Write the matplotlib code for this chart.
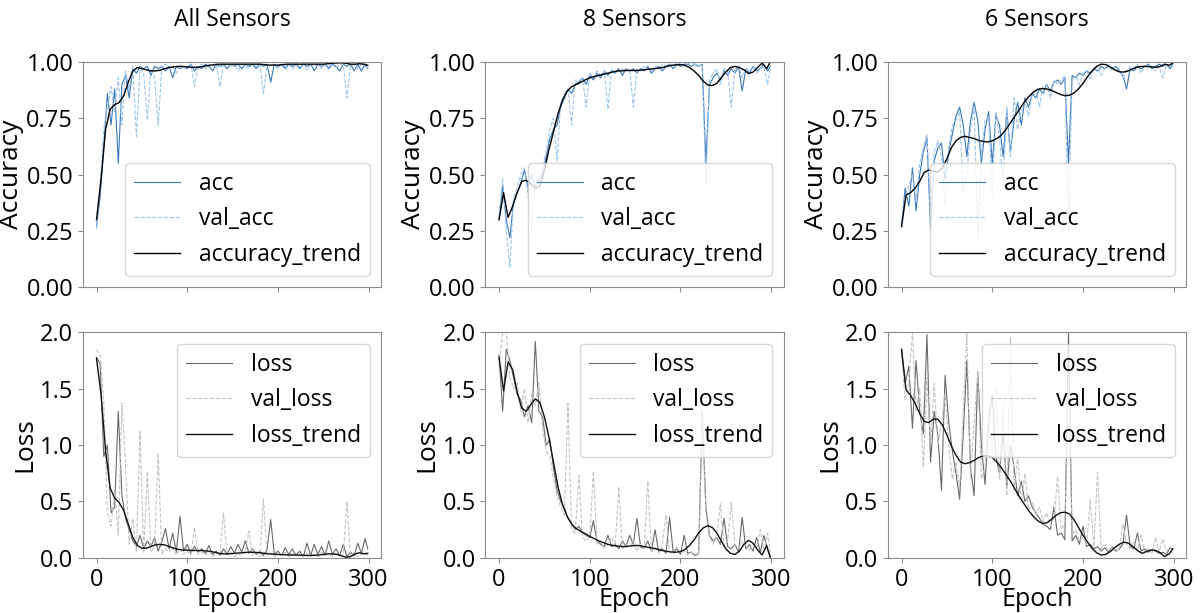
import numpy as np
import matplotlib
matplotlib.use('Agg')
from matplotlib import pyplot as plt

plt.rcParams['font.family'] = ['Open Sans', 'DejaVu Sans']

titles = ['All Sensors', '8 Sensors', '6 Sensors']

# raw history, every 4th epoch + last epoch
epochs = np.r_[np.arange(0, 300, 4), 299]
# smoothed trend, every 5th epoch + last epoch
trend_epochs = np.r_[np.arange(0, 300, 5), 299]

acc_all = [0.27, 0.40, 0.62, 0.86, 0.72, 0.88, 0.55, 0.90, 0.94, 0.84,
           0.97, 0.95, 0.98, 0.97, 0.98, 0.94, 0.98, 0.97, 0.98, 0.96,
           0.98, 0.93, 0.98, 0.97, 0.98, 0.97, 0.99, 0.96, 0.98, 0.97,
           0.99, 0.98, 0.96, 0.99, 0.98, 0.99, 0.97, 0.99, 0.98, 0.99,
           0.97, 0.99, 0.98, 0.99, 0.97, 0.99, 0.98, 0.99, 0.91, 0.99,
           0.98, 0.99, 0.97, 0.99, 0.98, 0.99, 0.97, 0.99, 0.98, 0.99,
           0.96, 0.99, 0.98, 0.99, 0.97, 0.99, 0.98, 0.96, 0.99, 0.98,
           0.99, 0.96, 0.99, 0.96, 0.99, 0.97]
val_acc_all = [0.26, 0.45, 0.70, 0.80, 0.89, 0.78, 0.93, 0.72, 0.96, 0.88,
               0.98, 0.67, 0.97, 0.95, 0.74, 0.97, 0.93, 0.72, 0.98, 0.99,
               0.97, 0.98, 0.95, 0.99, 0.97, 0.98, 0.99, 0.89, 0.98, 0.99,
               0.97, 0.99, 0.98, 0.99, 0.89, 0.99, 0.99, 0.98, 0.99, 0.96,
               0.99, 0.98, 0.97, 0.99, 0.98, 0.99, 0.86, 0.99, 0.98, 0.99,
               0.97, 0.99, 0.98, 0.99, 0.97, 0.99, 0.98, 0.99, 0.96, 0.99,
               0.98, 0.99, 0.97, 0.99, 0.98, 0.99, 0.97, 0.99, 0.99, 0.84,
               0.98, 0.99, 0.97, 0.99, 0.98, 0.97]
acc_trend_all = [0.30, 0.48, 0.70, 0.79, 0.81, 0.82, 0.85, 0.91, 0.96, 0.975,
                 0.97, 0.965, 0.96, 0.96, 0.963, 0.97, 0.975, 0.978, 0.98, 0.98,
                 0.978, 0.976, 0.976, 0.978, 0.982, 0.985, 0.988, 0.99, 0.99, 0.99,
                 0.99, 0.99, 0.99, 0.99, 0.99, 0.99, 0.99, 0.988, 0.986, 0.986,
                 0.986, 0.988, 0.99, 0.99, 0.99, 0.99, 0.99, 0.99, 0.99, 0.99,
                 0.99, 0.992, 0.994, 0.995, 0.996, 0.994, 0.99, 0.99, 0.992, 0.99,
                 0.985]

acc_8 = [0.30, 0.45, 0.30, 0.22, 0.38, 0.42, 0.46, 0.52, 0.44, 0.50,
         0.45, 0.48, 0.50, 0.58, 0.66, 0.70, 0.72, 0.80, 0.84, 0.88,
         0.86, 0.90, 0.91, 0.93, 0.90, 0.94, 0.92, 0.95, 0.93, 0.96,
         0.94, 0.96, 0.95, 0.97, 0.94, 0.97, 0.96, 0.97, 0.95, 0.97,
         0.96, 0.98, 0.95, 0.97, 0.98, 0.96, 0.98, 0.99, 0.97, 0.99,
         0.98, 0.99, 0.99, 0.98, 0.99, 0.98, 0.99, 0.55, 0.90, 0.93,
         0.95, 0.92, 0.96, 0.94, 0.97, 0.95, 0.98, 0.87, 0.97, 0.95,
         0.98, 0.96, 0.97, 0.99, 0.96, 0.98]
val_acc_8 = [0.32, 0.48, 0.25, 0.09, 0.40, 0.44, 0.50, 0.53, 0.41, 0.25,
             0.48, 0.46, 0.54, 0.60, 0.70, 0.75, 0.56, 0.82, 0.86, 0.88,
             0.72, 0.92, 0.90, 0.93, 0.80, 0.95, 0.93, 0.96, 0.94, 0.96,
             0.79, 0.97, 0.95, 0.96, 0.97, 0.96, 0.97, 0.80, 0.97, 0.96,
             0.98, 0.97, 0.96, 0.98, 0.97, 0.99, 0.98, 0.99, 0.98, 1.00,
             0.99, 0.98, 0.99, 1.00, 0.99, 0.98, 0.99, 0.45, 0.92, 0.95,
             0.97, 0.90, 0.97, 0.96, 0.80, 0.97, 0.98, 0.93, 0.97, 0.96,
             0.98, 0.95, 0.97, 0.98, 0.90, 0.97]
acc_trend_8 = [0.30, 0.42, 0.31, 0.36, 0.42, 0.47, 0.475, 0.46, 0.44, 0.45,
               0.52, 0.61, 0.69, 0.77, 0.83, 0.87, 0.89, 0.90, 0.91, 0.92,
               0.93, 0.935, 0.94, 0.945, 0.95, 0.955, 0.96, 0.96, 0.962, 0.962,
               0.962, 0.963, 0.965, 0.968, 0.97, 0.972, 0.975, 0.98, 0.985, 0.987,
               0.988, 0.985, 0.975, 0.96, 0.94, 0.915, 0.898, 0.895, 0.905, 0.93,
               0.955, 0.975, 0.98, 0.975, 0.965, 0.948, 0.955, 0.975, 0.995, 0.97,
               1.0]

acc_6 = [0.27, 0.44, 0.36, 0.53, 0.34, 0.50, 0.60, 0.66, 0.26, 0.56,
         0.62, 0.64, 0.48, 0.60, 0.68, 0.76, 0.80, 0.72, 0.58, 0.74,
         0.82, 0.74, 0.55, 0.70, 0.78, 0.55, 0.76, 0.72, 0.58, 0.78,
         0.60, 0.74, 0.82, 0.72, 0.84, 0.80, 0.86, 0.84, 0.88, 0.86,
         0.90, 0.87, 0.91, 0.92, 0.90, 0.93, 0.55, 0.94, 0.93, 0.95,
         0.94, 0.96, 0.95, 0.97, 0.96, 0.98, 0.97, 0.98, 0.97, 0.98,
         0.96, 0.94, 0.88, 0.97, 0.96, 0.98, 0.97, 0.98, 0.99, 0.97,
         0.98, 0.99, 0.98, 0.99, 0.97, 0.99]
val_acc_6 = [0.28, 0.40, 0.45, 0.50, 0.38, 0.55, 0.62, 0.68, 0.30, 0.60,
             0.65, 0.58, 0.37, 0.62, 0.72, 0.74, 0.78, 0.42, 0.50, 0.70,
             0.80, 0.22, 0.60, 0.74, 0.76, 0.40, 0.78, 0.66, 0.45, 0.80,
             0.58, 0.84, 0.70, 0.80, 0.82, 0.76, 0.86, 0.88, 0.80, 0.89,
             0.90, 0.84, 0.92, 0.90, 0.92, 0.94, 0.25, 0.92, 0.94, 0.90,
             0.95, 0.96, 0.92, 0.97, 0.98, 0.94, 0.97, 0.99, 0.96, 0.98,
             0.97, 0.93, 0.96, 0.98, 0.97, 0.99, 0.95, 0.98, 0.99, 0.98,
             0.96, 0.98, 0.93, 0.99, 0.98, 0.98]
acc_trend_6 = [0.27, 0.41, 0.42, 0.44, 0.47, 0.51, 0.52, 0.515, 0.51, 0.53,
               0.57, 0.62, 0.65, 0.665, 0.67, 0.665, 0.66, 0.652, 0.647, 0.645,
               0.65, 0.66, 0.675, 0.70, 0.73, 0.76, 0.79, 0.82, 0.845, 0.865,
               0.878, 0.882, 0.88, 0.874, 0.865, 0.856, 0.85, 0.852, 0.862, 0.88,
               0.905, 0.935, 0.96, 0.98, 0.99, 0.988, 0.978, 0.965, 0.956, 0.955,
               0.96, 0.97, 0.978, 0.98, 0.98, 0.978, 0.976, 0.98, 0.99, 0.985,
               0.995]

loss_all = [1.78, 1.72, 0.90, 1.00, 0.40, 0.45, 1.30, 0.55, 0.35, 0.25,
            0.15, 0.10, 0.20, 0.08, 0.15, 0.10, 0.18, 0.06, 0.14, 0.26,
            0.08, 0.22, 0.05, 0.37, 0.06, 0.12, 0.04, 0.10, 0.05, 0.08,
            0.04, 0.11, 0.03, 0.06, 0.02, 0.08, 0.03, 0.10, 0.04, 0.12,
            0.05, 0.15, 0.04, 0.08, 0.03, 0.06, 0.02, 0.07, 0.34, 0.03,
            0.06, 0.02, 0.09, 0.03, 0.08, 0.02, 0.06, 0.01, 0.13, 0.02,
            0.12, 0.03, 0.10, 0.02, 0.15, 0.03, 0.08, 0.02, 0.12, 0.01,
            0.05, 0.02, 0.13, 0.04, 0.17, 0.08]
val_loss_all = [1.85, 1.80, 1.40, 0.40, 0.28, 0.60, 0.20, 1.37, 0.83, 0.12,
                0.35, 0.05, 1.12, 0.04, 0.77, 0.05, 0.10, 0.93, 0.03, 0.08,
                0.05, 0.10, 0.02, 0.08, 0.03, 0.06, 0.02, 0.27, 0.03, 0.05,
                0.02, 0.06, 0.01, 0.04, 0.02, 0.40, 0.02, 0.05, 0.01, 0.04,
                0.02, 0.06, 0.24, 0.02, 0.05, 0.01, 0.52, 0.02, 0.04, 0.01,
                0.03, 0.02, 0.05, 0.01, 0.04, 0.02, 0.03, 0.01, 0.04, 0.02,
                0.03, 0.01, 0.05, 0.02, 0.03, 0.01, 0.04, 0.02, 0.03, 0.50,
                0.02, 0.04, 0.01, 0.03, 0.05, 0.02]
loss_trend_all = [1.77, 1.45, 0.95, 0.62, 0.53, 0.49, 0.42, 0.30, 0.18, 0.11,
                  0.085, 0.085, 0.10, 0.115, 0.12, 0.115, 0.10, 0.085, 0.075, 0.07,
                  0.068, 0.066, 0.065, 0.065, 0.062, 0.058, 0.05, 0.04, 0.035, 0.035,
                  0.038, 0.042, 0.045, 0.048, 0.05, 0.048, 0.045, 0.04, 0.036, 0.032,
                  0.03, 0.028, 0.026, 0.025, 0.025, 0.024, 0.022, 0.02, 0.022, 0.025,
                  0.03, 0.035, 0.035, 0.03, 0.018, 0.005, 0.01, 0.035, 0.045, 0.035,
                  0.04]

loss_8 = [1.80, 1.30, 1.85, 1.75, 1.60, 1.45, 1.40, 1.25, 1.35, 1.20,
          1.92, 1.30, 1.25, 1.00, 1.05, 0.80, 0.60, 0.50, 0.45, 0.35,
          0.30, 0.25, 0.28, 0.22, 0.20, 0.18, 0.33, 0.15, 0.12, 0.10,
          0.20, 0.10, 0.12, 0.08, 0.15, 0.10, 0.20, 0.12, 0.35, 0.10,
          0.08, 0.15, 0.06, 0.25, 0.05, 0.08, 0.04, 0.36, 0.05, 0.08,
          0.03, 0.20, 0.04, 0.05, 0.02, 0.04, 1.30, 0.45, 0.20, 0.15,
          0.18, 0.12, 0.35, 0.10, 0.08, 0.12, 0.05, 0.36, 0.08, 0.12,
          0.06, 0.18, 0.05, 0.20, 0.07, 0.02]
val_loss_8 = [1.70, 2.00, 2.00, 1.60, 1.50, 1.55, 1.30, 1.50, 1.20, 1.45,
              1.35, 1.55, 1.15, 0.95, 0.90, 0.70, 0.55, 0.45, 0.38, 1.37,
              0.25, 0.22, 0.73, 0.18, 0.15, 0.20, 0.77, 0.12, 0.15, 0.08,
              0.12, 0.18, 0.10, 0.63, 0.08, 0.12, 0.10, 0.15, 0.06, 0.12,
              0.08, 0.68, 0.05, 0.10, 0.04, 0.12, 0.38, 0.05, 0.03, 0.10,
              0.04, 0.06, 0.02, 0.05, 0.03, 0.02, 1.25, 0.40, 0.18, 0.12,
              0.20, 0.48, 0.10, 0.15, 0.49, 0.12, 0.08, 0.15, 0.10, 0.06,
              0.12, 0.08, 0.25, 0.06, 0.22, 0.05]
loss_trend_8 = [1.78, 1.48, 1.74, 1.67, 1.47, 1.33, 1.30, 1.36, 1.41, 1.38,
                1.25, 1.07, 0.85, 0.63, 0.47, 0.37, 0.30, 0.26, 0.235, 0.215,
                0.19, 0.17, 0.15, 0.135, 0.12, 0.11, 0.105, 0.10, 0.10, 0.105,
                0.11, 0.108, 0.10, 0.092, 0.085, 0.075, 0.065, 0.057, 0.052, 0.05,
                0.055, 0.075, 0.11, 0.16, 0.22, 0.265, 0.285, 0.27, 0.22, 0.15,
                0.08, 0.04, 0.03, 0.06, 0.12, 0.155, 0.13, 0.07, 0.025, 0.11,
                0.0]

loss_6 = [1.85, 1.55, 1.70, 1.15, 1.75, 1.30, 1.10, 1.98, 0.85, 1.30,
          1.10, 0.60, 1.62, 1.20, 0.95, 0.75, 0.52, 1.10, 1.75, 0.80,
          0.55, 1.65, 1.00, 0.65, 1.20, 1.45, 0.90, 0.75, 1.10, 0.62,
          1.00, 0.80, 0.55, 0.68, 0.50, 0.55, 0.45, 0.40, 0.35, 0.30,
          0.28, 0.25, 0.45, 0.20, 0.22, 0.16, 2.00, 0.15, 0.20, 0.12,
          0.28, 0.10, 0.12, 0.08, 0.10, 0.06, 0.09, 0.05, 0.10, 0.06,
          0.08, 0.12, 0.38, 0.10, 0.08, 0.22, 0.06, 0.08, 0.05, 0.07,
          0.06, 0.04, 0.05, 0.03, 0.09, 0.08]
val_loss_6 = [1.80, 1.40, 1.55, 2.00, 1.30, 1.50, 0.80, 1.60, 1.00, 1.55,
              1.00, 1.20, 1.45, 1.00, 0.70, 0.85, 0.60, 1.30, 2.00, 0.70,
              1.20, 1.65, 0.70, 0.80, 1.30, 0.95, 1.50, 0.70, 1.35, 0.55,
              1.95, 0.60, 0.90, 0.50, 0.75, 0.42, 0.50, 0.38, 0.45, 0.32,
              0.40, 0.28, 0.35, 0.72, 0.25, 0.30, 1.55, 0.20, 0.25, 0.15,
              0.18, 0.12, 0.52, 0.10, 0.76, 0.08, 0.12, 0.06, 0.10, 0.05,
              0.08, 0.30, 0.12, 0.08, 0.15, 0.06, 0.20, 0.05, 0.08, 0.04,
              0.18, 0.05, 0.17, 0.06, 0.10, 0.04]
loss_trend_6 = [1.85, 1.49, 1.44, 1.37, 1.28, 1.21, 1.20, 1.23, 1.23, 1.18,
                1.09, 0.99, 0.91, 0.85, 0.835, 0.845, 0.865, 0.89, 0.905, 0.905,
                0.89, 0.85, 0.80, 0.74, 0.68, 0.61, 0.54, 0.48, 0.42, 0.37,
                0.33, 0.305, 0.31, 0.34, 0.375, 0.40, 0.405, 0.39, 0.34, 0.27,
                0.20, 0.14, 0.085, 0.045, 0.025, 0.03, 0.055, 0.09, 0.12, 0.14,
                0.13, 0.10, 0.065, 0.04, 0.055, 0.07, 0.065, 0.045, 0.01, 0.035,
                0.08]

acc_runs = [(acc_all, val_acc_all, acc_trend_all),
            (acc_8, val_acc_8, acc_trend_8),
            (acc_6, val_acc_6, acc_trend_6)]
loss_runs = [(loss_all, val_loss_all, loss_trend_all),
             (loss_8, val_loss_8, loss_trend_8),
             (loss_6, val_loss_6, loss_trend_6)]

SPINE = '#8c8c8c'


def style_axis(ax):
    for s in ax.spines.values():
        s.set_color(SPINE)
    ax.tick_params(labelsize=17, color=SPINE)


def plot_acc(ax, run, title):
    acc, val_acc, trend = run
    ax.plot(epochs, acc, color='#3a78b9', lw=0.8, label='acc')
    ax.plot(epochs, val_acc, color='#9fc4ea', lw=0.8, ls='--', label='val_acc')
    ax.plot(trend_epochs, trend, color='black', lw=1.0, label='accuracy_trend')
    ax.set_ylim(0, 1)
    ax.set_yticks([0, 0.25, 0.5, 0.75, 1.0])
    ax.set_ylabel('Accuracy', fontsize=19, labelpad=2)
    ax.set_title(title, fontsize=16.5, pad=26)
    ax.legend(loc='lower right', fontsize=16.5)
    style_axis(ax)
    ax.tick_params(labelbottom=False)


def plot_loss(ax, run):
    loss, val_loss, trend = run
    ax.plot(epochs, loss, color='#6a6a6a', lw=0.8, label='loss')
    ax.plot(epochs, val_loss, color='#c4c4c4', lw=0.8, ls='--', label='val_loss')
    ax.plot(trend_epochs, trend, color='#111111', lw=1.0, label='loss_trend')
    ax.set_ylim(0, 2)
    ax.set_yticks([0, 0.5, 1.0, 1.5, 2.0])
    ax.set_ylabel('Loss', fontsize=19, labelpad=2)
    ax.set_xlabel('Epoch', fontsize=18, labelpad=-3)
    ax.set_xticks([0, 100, 200, 300])
    ax.legend(loc='upper right', fontsize=16.5)
    style_axis(ax)


fig, axes = plt.subplots(2, 3, figsize=(12.02, 6.13), dpi=100)
for i in range(3):
    plot_acc(axes[0, i], acc_runs[i], titles[i])
    plot_loss(axes[1, i], loss_runs[i])
    axes[0, i].set_xlim(-14.95, 313.95)
    axes[1, i].set_xlim(-14.95, 313.95)

plt.subplots_adjust(left=0.069, right=0.987, top=0.899, bottom=0.09,
                    wspace=0.349, hspace=0.2)
plt.savefig('out.png', dpi=100)
